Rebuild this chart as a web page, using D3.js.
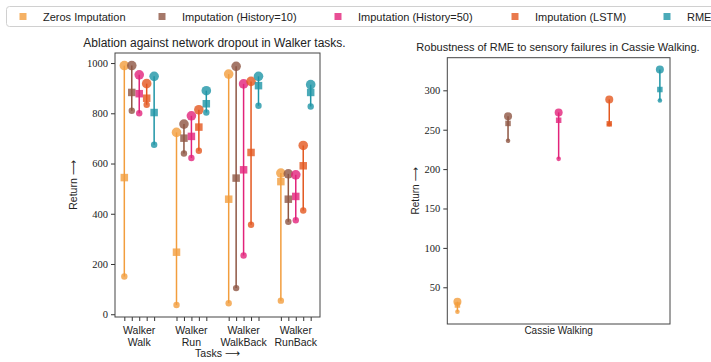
<!DOCTYPE html>
<html>
<head>
<meta charset="utf-8">
<script src="https://cdn.jsdelivr.net/npm/d3@7"></script>
<style>
  body { margin: 0; background: #fff; }
  .sans { font-family: "Liberation Sans", "DejaVu Sans", sans-serif; }
</style>
</head>
<body>
<div class="chart"></div>
<script>
// methods + colours
var methods = ["Zeros Imputation", "Imputation (History=10)", "Imputation (History=50)", "Imputation (LSTM)", "RME"];
var colors = ["#F29D3D", "#8E5643", "#E2237A", "#E3581F", "#1E95A6"];

// walker tasks (rows = task, cols = method)
var tasks = [["Walker", "Walk"], ["Walker", "Run"], ["Walker", "WalkBack"], ["Walker", "RunBack"]];
var walkerHigh = [
  [990, 990, 953, 918, 947],
  [724, 757, 790, 814, 890],
  [956, 987, 917, 927, 947],
  [562, 559, 555, 672, 914]
];
var walkerMid = [
  [544, 883, 878, 860, 803],
  [247, 701, 708, 745, 838],
  [458, 542, 575, 644, 910],
  [528, 458, 469, 591, 883]
];
var walkerLow = [
  [150, 810, 800, 834, 675],
  [37, 640, 622, 651, 803],
  [44, 104, 234, 356, 830],
  [54, 368, 374, 413, 827]
];
var walkerTicks = [0, 200, 400, 600, 800, 1000];

// cassie walking (one value per method)
var cassieHigh = [31.7, 267, 272, 288.5, 326.5];
var cassieMid = [27.5, 258, 262, 257.5, 301];
var cassieLow = [19, 236, 213, 257, 287];
var cassieTicks = [50, 100, 150, 200, 250, 300];

var svgWidth = 711, svgHeight = 362;

var svg = d3.select(".chart")
  .append("svg")
  .attr("width", svgWidth)
  .attr("height", svgHeight);

// ---------- legend ----------
var legend = svg.append("g");
legend.append("rect")
  .attr("x", 6.5).attr("y", 6.5)
  .attr("width", 720).attr("height", 20)
  .attr("rx", 3)
  .attr("fill", "#fff")
  .attr("stroke", "#d0d0d0");
var legendX = [23, 162, 338, 515, 667];
methods.forEach(function(m, i) {
  legend.append("rect")
    .attr("x", legendX[i] - 3.5).attr("y", 13)
    .attr("width", 7).attr("height", 7)
    .attr("fill", colors[i]).attr("opacity", 0.8);
  legend.append("text")
    .attr("class", "sans")
    .attr("x", legendX[i] + 20).attr("y", 20.5)
    .attr("font-size", "11px").attr("fill", "#222")
    .text(m);
});

// draw one dumbbell (low circle - mid square - high circle)
function drawRange(g, x, yScale, hi, mid, lo, color, sz) {
  g.append("line")
    .attr("x1", x).attr("x2", x)
    .attr("y1", yScale(lo)).attr("y2", yScale(hi))
    .attr("stroke", color).attr("stroke-width", 1.5);
  g.append("circle")
    .attr("cx", x).attr("cy", yScale(lo)).attr("r", sz.lo)
    .attr("fill", color).attr("opacity", 0.8);
  g.append("rect")
    .attr("x", x - sz.sq / 2).attr("y", yScale(mid) - sz.sq / 2)
    .attr("width", sz.sq).attr("height", sz.sq)
    .attr("fill", color).attr("opacity", 0.8);
  g.append("circle")
    .attr("cx", x).attr("cy", yScale(hi)).attr("r", sz.hi)
    .attr("fill", color).attr("opacity", 0.8);
}

// serif tick labels, like the latex figure
function styleTicks(g) {
  g.select(".domain").remove();
  g.selectAll(".tick line").attr("stroke", "#333");
  g.selectAll(".tick text")
    .attr("font-family", "Liberation Serif, DejaVu Serif, serif")
    .attr("font-size", "10.5px")
    .attr("fill", "#222");
}

// ---------- left chart ----------
var left = { x0: 115, x1: 320, y0: 53, y1: 317 };
var xL = d3.scaleLinear().domain([-1.25, 26.25]).range([left.x0, left.x1]);
var yL = d3.scaleLinear().domain([-11, 1040]).range([left.y1, left.y0]);

var chartL = svg.append("g");

var tickPos = [];
tasks.forEach(function(t, i) {
  methods.forEach(function(m, j) { tickPos.push(7 * i + j); });
});

chartL.append("g")
  .attr("transform", "translate(" + left.x0 + ",0)")
  .call(d3.axisLeft(yL).tickValues(walkerTicks).tickFormat(d3.format("d")).tickSize(4).tickPadding(3))
  .call(styleTicks);

chartL.append("g")
  .attr("transform", "translate(0," + left.y1 + ")")
  .call(d3.axisBottom(xL).tickValues(tickPos).tickSize(4).tickFormat(""))
  .call(styleTicks);

tasks.forEach(function(t, i) {
  var lbl = chartL.append("text")
    .attr("class", "sans")
    .attr("x", xL(7 * i + 2)).attr("y", 334)
    .attr("text-anchor", "middle")
    .attr("font-size", "10.5px").attr("fill", "#222");
  lbl.append("tspan").attr("x", xL(7 * i + 2)).text(t[0]);
  lbl.append("tspan").attr("x", xL(7 * i + 2)).attr("dy", 12).text(t[1]);

  methods.forEach(function(m, j) {
    drawRange(chartL, xL(7 * i + j), yL,
      walkerHigh[i][j], walkerMid[i][j], walkerLow[i][j], colors[j],
      { hi: 4.8, lo: 3.2, sq: 7.5 });
  });
});

chartL.append("rect")
  .attr("x", left.x0).attr("y", left.y0)
  .attr("width", left.x1 - left.x0).attr("height", left.y1 - left.y0)
  .attr("fill", "none").attr("stroke", "#444").attr("stroke-width", 1);

chartL.append("text")
  .attr("class", "sans")
  .attr("x", (left.x0 + left.x1) / 2 - 3).attr("y", 47)
  .attr("text-anchor", "middle")
  .attr("font-size", "12px").attr("fill", "#222")
  .text("Ablation against network dropout in Walker tasks.");

chartL.append("text")
  .attr("class", "sans")
  .attr("transform", "translate(77," + ((left.y0 + left.y1) / 2) + ") rotate(-90)")
  .attr("text-anchor", "middle")
  .attr("font-size", "10.5px").attr("fill", "#222")
  .text("Return \u27F6");

chartL.append("text")
  .attr("class", "sans")
  .attr("x", (left.x0 + left.x1) / 2).attr("y", 357)
  .attr("text-anchor", "middle")
  .attr("font-size", "10.5px").attr("fill", "#222")
  .text("Tasks \u27F6");

// ---------- right chart ----------
var right = { x0: 447.3, x1: 670, y0: 57.7, y1: 324 };
var xR = d3.scaleLinear().domain([-0.2, 4.2]).range([right.x0, right.x1]);
var yR = d3.scaleLinear().domain([3.4, 341.4]).range([right.y1, right.y0]);

var chartR = svg.append("g");

chartR.append("g")
  .attr("transform", "translate(" + right.x0 + ",0)")
  .call(d3.axisLeft(yR).tickValues(cassieTicks).tickFormat(d3.format("d")).tickSize(4).tickPadding(3))
  .call(styleTicks);

methods.forEach(function(m, j) {
  drawRange(chartR, xR(j), yR, cassieHigh[j], cassieMid[j], cassieLow[j], colors[j],
    { hi: 4, lo: 2.3, sq: 5.5 });
});

chartR.append("rect")
  .attr("x", right.x0).attr("y", right.y0)
  .attr("width", right.x1 - right.x0).attr("height", right.y1 - right.y0)
  .attr("fill", "none").attr("stroke", "#444").attr("stroke-width", 1);

chartR.append("text")
  .attr("class", "sans")
  .attr("x", xR(2)).attr("y", 334)
  .attr("text-anchor", "middle")
  .attr("font-size", "10px").attr("fill", "#222")
  .text("Cassie Walking");

chartR.append("text")
  .attr("class", "sans")
  .attr("x", 558).attr("y", 51)
  .attr("text-anchor", "middle")
  .attr("font-size", "11px").attr("fill", "#222")
  .text("Robustness of RME to sensory failures in Cassie Walking.");

chartR.append("text")
  .attr("class", "sans")
  .attr("transform", "translate(419," + ((right.y0 + right.y1) / 2) + ") rotate(-90)")
  .attr("text-anchor", "middle")
  .attr("font-size", "10px").attr("fill", "#222")
  .text("Return \u27F6");
</script>
</body>
</html>
